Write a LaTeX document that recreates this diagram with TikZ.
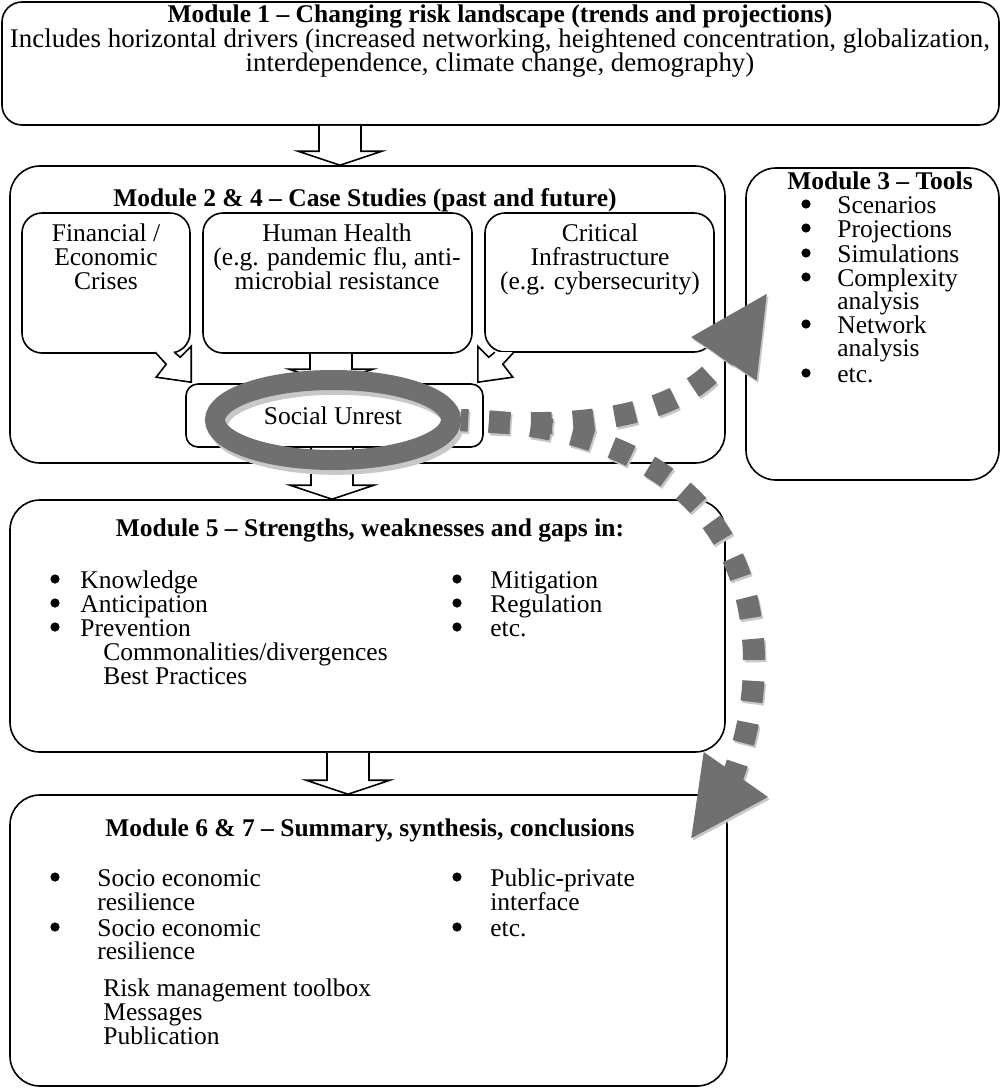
\documentclass[tikz,border=0pt]{standalone}
\usepackage{fontspec}
\setmainfont{Liberation Serif}
\usetikzlibrary{arrows.meta,calc,fit,shapes.geometric}

\definecolor{dotgray}{RGB}{112,112,112}
\definecolor{shadegray}{RGB}{200,200,200}

\tikzset{
  bigbox/.style={draw, line width=0.8pt, rounded corners=15pt, inner sep=0pt},
  smallbox/.style={draw, line width=0.8pt, rounded corners=10pt, inner sep=0pt},
  hollow/.style={draw, fill=white, line width=0.8pt},
  txt/.style={inner sep=0pt, text height=9pt, text depth=3pt, font=\fontsize{12.75}{12}\selectfont},
  title/.style={txt, font=\fontsize{12.75}{12}\selectfont\bfseries},
  bul/.style={circle, fill, inner sep=0pt, minimum size=4.6pt},
  ring/.style={ellipse, line width=10pt, minimum width=118pt, minimum height=40pt, inner sep=0pt},
  dots/.style={draw=dotgray, line width=11pt, dash pattern=on 10.5pt off 10.5pt, dash phase=7pt,
    -{Triangle[length=40pt,width=36pt]}},
}

% hollow block arrow: shaft centre x, from anchor, to anchor
\newcommand{\blockarrow}[3]{%
  \coordinate (bx) at (#1,0);
  \draw[hollow] ($(#2 -| bx)+(-21,0)$) -- ($(#3 -| bx)+(-21,-14)$) -- ++(-21,0) -- (#3 -| bx)
    -- ++(42,-14) -- ++(-21,0) -- ($(#2 -| bx)+(21,0)$);}

\begin{document}
\begin{tikzpicture}[x=0.5pt, y=-0.5pt]
\useasboundingbox (0,0) rectangle (1001,1088);

% boxes
\node[bigbox, rounded corners=10pt, fit={(2,2) (999,125)}] (m1) {};
\node[bigbox, fit={(10,166) (725,463)}] (m24) {};
\node[bigbox, fit={(746,168) (999,480)}] (m3) {};
\node[smallbox, fit={(22,213) (190,353)}] (fin) {};
\node[smallbox, fit={(203,213) (472,353)}] (hh) {};
\node[smallbox, fit={(485,213) (714,352)}] (ci) {};
\node[smallbox, rounded corners=6pt, fit={(186,384) (483,447)}] (sub) {};
\node[bigbox, fit={(10,500) (725,752)}] (m5) {};
\node[bigbox, fit={(10,795) (727,1086)}] (m67) {};

% module 1
\node[title] (t1) at (500,16) {Module 1 -- Changing risk landscape (trends and projections)};
\node[txt, font=\fontsize{13.45}{12}\selectfont] (t1a) at (500,41) {Includes horizontal drivers (increased networking, heightened concentration, globalization,};
\node[txt, font=\fontsize{13.45}{12}\selectfont] (t1b) at (500,65) {interdependence, climate change, demography)};

% module 2 & 4
\node[title] (t24) at (365,200) {Module 2 \& 4 -- Case Studies (past and future)};
\node[txt] (fin1) at (106,235) {Financial /};
\node[txt] (fin2) at (106,259) {Economic};
\node[txt] (fin3) at (106,283) {Crises};
\node[txt] (hh1) at (337,235) {Human Health};
\node[txt] (hh2) at (337,259) {(e.g. pandemic flu, anti-};
\node[txt] (hh3) at (337,283) {microbial resistance};
\node[txt] (ci1) at (600,235) {Critical};
\node[txt] (ci2) at (600,259) {Infrastructure};
\node[txt] (ci3) at (600,283) {(e.g. cybersecurity)};

% module 3
\node[title] (t3) at (880,183) {Module 3 -- Tools};
\node[bul] (b3a) at (806,204) {};
\node[bul] (b3b) at (806,228) {};
\node[bul] (b3c) at (806,253) {};
\node[bul] (b3d) at (806,277) {};
\node[bul] (b3e) at (806,324) {};
\node[bul] (b3f) at (806,373) {};
\node[txt, anchor=west] (s3a) at (837,207) {Scenarios};
\node[txt, anchor=west] (s3b) at (837,231) {Projections};
\node[txt, anchor=west] (s3c) at (837,256) {Simulations};
\node[txt, anchor=west] (s3d) at (837,280) {Complexity};
\node[txt, anchor=west] (s3e) at (837,303) {analysis};
\node[txt, anchor=west] (s3f) at (837,327) {Network};
\node[txt, anchor=west] (s3g) at (837,350) {analysis};
\node[txt, anchor=west] (s3h) at (837,376) {etc.};

% module 5
\node[title] (t5) at (370,530) {Module 5 -- Strengths, weaknesses and gaps in:};
\node[bul] (b5a) at (55,579) {};
\node[bul] (b5b) at (55,603) {};
\node[bul] (b5c) at (55,627) {};
\node[txt, anchor=west] (s5a) at (80,582) {Knowledge};
\node[txt, anchor=west] (s5b) at (80,606) {Anticipation};
\node[txt, anchor=west] (s5c) at (80,630) {Prevention};
\node[txt, anchor=west] (s5d) at (103,654) {Commonalities/divergences};
\node[txt, anchor=west] (s5e) at (103,678) {Best Practices};
\node[bul] (b5d) at (457,579) {};
\node[bul] (b5e) at (457,603) {};
\node[bul] (b5f) at (457,627) {};
\node[txt, anchor=west] (s5f) at (490,582) {Mitigation};
\node[txt, anchor=west] (s5g) at (490,606) {Regulation};
\node[txt, anchor=west] (s5h) at (490,630) {etc.};

% module 6 & 7
\node[title] (t67) at (370,830) {Module 6 \& 7 -- Summary, synthesis, conclusions};
\node[bul] (b6a) at (55,877) {};
\node[bul] (b6b) at (55,927) {};
\node[txt, anchor=west] (s6a) at (97,880) {Socio economic};
\node[txt, anchor=west] (s6b) at (97,904) {resilience};
\node[txt, anchor=west] (s6c) at (97,930) {Socio economic};
\node[txt, anchor=west] (s6d) at (97,953) {resilience};
\node[txt, anchor=west] (s6e) at (103,990) {Risk management toolbox};
\node[txt, anchor=west] (s6f) at (103,1014) {Messages};
\node[txt, anchor=west] (s6g) at (103,1038) {Publication};
\node[bul] (b6c) at (457,877) {};
\node[bul] (b6d) at (457,927) {};
\node[txt, anchor=west] (s6h) at (490,880) {Public-private};
\node[txt, anchor=west] (s6i) at (490,904) {interface};
\node[txt, anchor=west] (s6j) at (490,930) {etc.};

% hollow arrows
\blockarrow{340}{m1.south}{m24.north}
\blockarrow{331}{hh.south}{sub.north}
\blockarrow{332}{sub.south}{m5.north}
\blockarrow{348}{m5.south}{m67.north}
\draw[hollow] ($(sub.north west)+(-30,-31)$) -- ++(11,12) -- ++(-10,13) -- ++(35,5)
  -- ++(0,-36) -- ++(-11,11) -- ++(-6,-5);
\draw[hollow] ($(sub.north east)+(30,-31)$) -- ++(-11,12) -- ++(10,13) -- ++(-35,5)
  -- ++(0,-36) -- ++(11,11) -- ++(6,-5);

% social unrest ring
\node[ring, draw=shadegray, transform canvas={shift={(0.8pt,-1.2pt)}}] (ringshade) at (333,420) {};
\node[ring, draw=dotgray] (ring) at (333,420) {};
\node[txt] (su) at (333,418) {Social Unrest};

% dotted arrows
\coordinate (tipA) at (768,292);
\coordinate (tipB) at (690,840);
\begin{scope}[transform canvas={shift={(0.8pt,-1.2pt)}}]
\draw[dots, draw=shadegray] (ring.east) .. controls (600,432) and (690,410) .. (tipA);
\draw[dots, draw=shadegray] (ring.east) .. controls (660,425) and (755,520) .. (754,666)
  .. controls (753,740) and (725,790) .. (tipB);
\end{scope}
\draw[dots] (ring.east) .. controls (600,432) and (690,410) .. (tipA);
\draw[dots] (ring.east) .. controls (660,425) and (755,520) .. (754,666)
  .. controls (753,740) and (725,790) .. (tipB);
\end{tikzpicture}
\end{document}
